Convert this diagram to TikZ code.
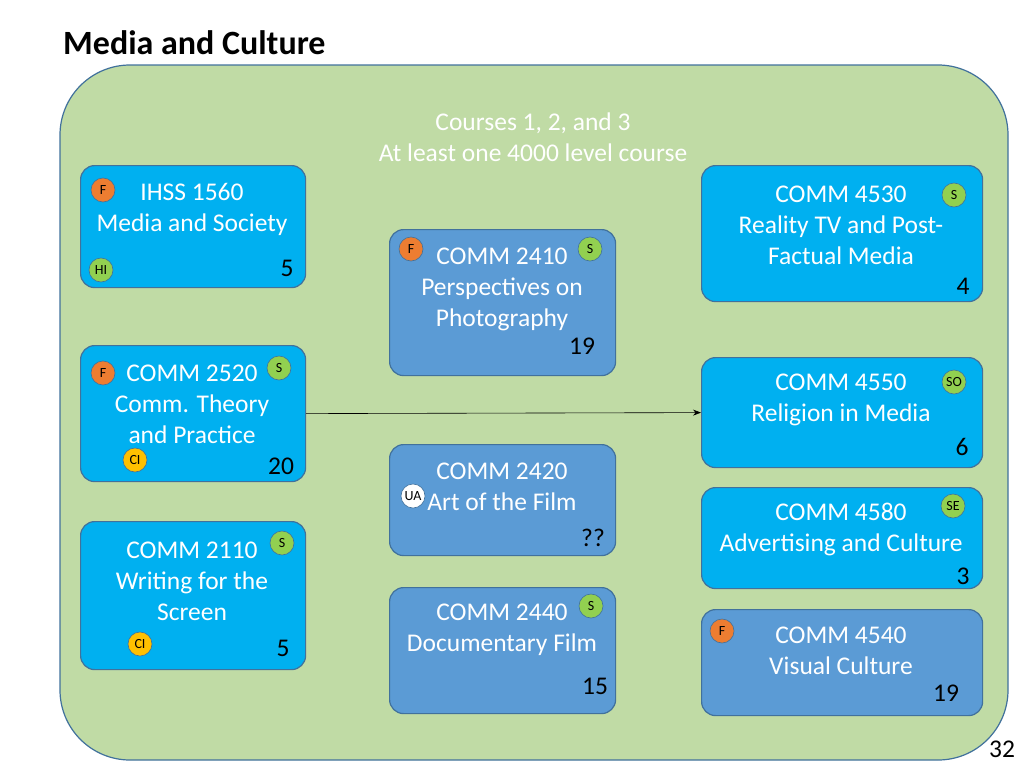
\documentclass[tikz,border=0pt]{standalone}
\usepackage{fontspec}
\setmainfont{Carlito}
\usetikzlibrary{arrows.meta}
\definecolor{bg}{RGB}{192,219,165}
\definecolor{edge}{RGB}{65,113,156}
\definecolor{cyanb}{RGB}{0,176,240}
\definecolor{darkb}{RGB}{91,155,213}
\definecolor{orng}{RGB}{237,125,49}
\definecolor{grn}{RGB}{146,208,80}
\definecolor{ylw}{RGB}{255,192,0}
\begin{document}
\begin{tikzpicture}[x=1pt,y=-1pt,
  box/.style={draw=edge,line width=1.2pt,rounded corners=14pt,anchor=north west,inner sep=0pt},
  lbl/.style={font=\fontsize{25.5}{31}\selectfont,align=center,inner sep=0pt},
  num/.style={font=\fontsize{25.5}{28}\selectfont,inner sep=0pt},
  bd/.style={circle,draw=edge,line width=0.6pt,minimum size=24pt,inner sep=0pt,font=\fontsize{14}{14}\selectfont}]
\useasboundingbox (0,0) rectangle (1024,768);
\node[anchor=west,font=\fontsize{34}{36}\selectfont\bfseries,inner sep=0pt] (title) at (63,43) {Media and Culture};
\draw[fill=bg,draw=edge,line width=1.2pt,rounded corners=70pt] (60,65) rectangle (1008,760);
\node[lbl,text=white] (hdr) at (533,137) {Courses 1, 2, and 3\\At least one 4000 level course};
% boxes
\node[box,fill=cyanb,minimum width=225pt,minimum height=122pt] (b1) at (80,165) {};
\node[lbl,text=white] (t1) at (192,209) {IHSS 1560\\Media and Society};
\node[num] (n1) at (287,268) {5};
\node[bd,fill=orng] at (103,190) {F};
\node[bd,fill=grn] at (101,270) {HI};

\node[box,fill=darkb,minimum width=226pt,minimum height=146pt] (b2) at (389,229) {};
\node[lbl,text=white] (t2) at (502,289) {COMM 2410\\Perspectives on\\Photography};
\node[num] at (582,346) {19};
\node[bd,fill=orng] at (411,249) {F};
\node[bd,fill=grn] at (590,249) {S};

\node[box,fill=cyanb,minimum width=225pt,minimum height=136pt] (b3) at (80,345) {};
\node[lbl,text=white] (t3) at (192,404) {COMM 2520\\Comm. Theory\\and Practice};
\node[num] at (281,466) {20};
\node[bd,fill=orng] at (103,373) {F};
\node[bd,fill=grn] at (279,368) {S};
\node[bd,fill=ylw] at (135,460) {CI};

\node[box,fill=cyanb,minimum width=225pt,minimum height=148pt] (b4) at (80,521) {};
\node[lbl,text=white] (t4) at (192,581) {COMM 2110\\Writing for the\\Screen};
\node[num] at (283,648) {5};
\node[bd,fill=grn] at (282,543) {S};
\node[bd,fill=ylw] at (140,644) {CI};

\node[box,fill=darkb,minimum width=226pt,minimum height=111pt] (b5) at (389,444) {};
\node[lbl,text=white] (t5) at (502,487) {COMM 2420\\Art of the Film};
\node[num] at (593,538) {??};
\node[bd,fill=white] at (413,496) {UA};

\node[box,fill=darkb,minimum width=226pt,minimum height=126pt] (b6) at (389,587) {};
\node[lbl,text=white] (t6) at (502,630) {COMM 2440\\Documentary Film};
\node[num] at (595,686) {15};
\node[bd,fill=grn] at (591,606) {S};

\node[box,fill=cyanb,minimum width=281pt,minimum height=136pt] (b7) at (701,165) {};
\node[lbl,text=white] (t7) at (841,225) {COMM 4530\\Reality TV and Post-\\Factual Media};
\node[num] at (963,286) {4};
\node[bd,fill=grn] at (954,195) {S};

\node[box,fill=cyanb,minimum width=281pt,minimum height=110pt] (b8) at (701,357) {};
\node[lbl,text=white] (t8) at (841,400) {COMM 4550\\Religion in Media};
\node[num] at (962,447) {6};
\node[bd,fill=grn] at (954,382) {SO};

\node[box,fill=cyanb,minimum width=281pt,minimum height=101pt] (b9) at (701,487) {};
\node[lbl,text=white] (t9) at (841,529) {COMM 4580\\Advertising and Culture};
\node[num] at (963,576) {3};
\node[bd,fill=grn] at (953,506) {SE};

\node[box,fill=darkb,minimum width=281pt,minimum height=106pt] (b10) at (701,609) {};
\node[lbl,text=white] (t10) at (841,651) {COMM 4540\\Visual Culture};
\node[num] at (946,693) {19};
\node[bd,fill=orng] at (722,631) {F};

\draw[-{Stealth[length=8pt,width=6pt]},line width=0.6pt] (b3.east) -- (b8.west);
\node[num] (pg) at (1002,749) {32};
\end{tikzpicture}
\end{document}
